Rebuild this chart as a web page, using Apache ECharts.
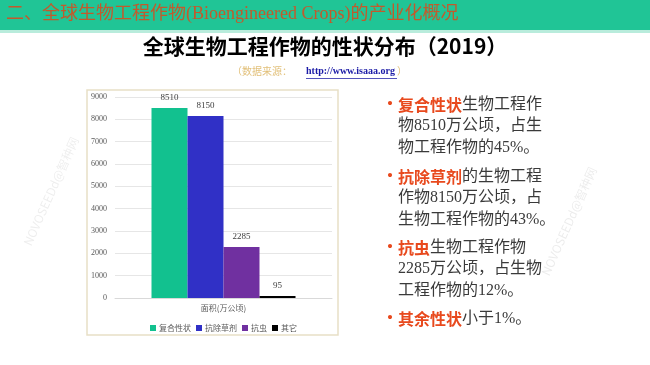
<!DOCTYPE html>
<html><head><meta charset="utf-8">
<script src="https://cdn.jsdelivr.net/npm/echarts@6/dist/echarts.min.js"></script>
<style>html,body{margin:0;padding:0;background:#fff}#c{width:650px;height:365px}</style>
</head><body><div id="c"></div>
<script>
const categories = ['面积(万公顷)'];
const seriesNames = ['复合性状', '抗除草剂', '抗虫', '其它'];
const seriesValues = [[8510], [8150], [2285], [95]];
const seriesColors = ['#12c18f', '#3030c6', '#7030a0', '#000000'];
const yTicks = { min: 0, max: 9000, interval: 1000 };

const hl = '#e8491d', tc = '#3a3a3a';
const bullets = [
  ['{h|复合性状}{t|生物工程作}', '{t|物8510万公顷，占生}', '{t|物工程作物的45%。}'],
  ['{h|抗除草剂}{t|的生物工程}', '{t|作物8150万公顷，占}', '{t|生物工程作物的43%。}'],
  ['{h|抗虫}{t|生物工程作物}', '{t|2285万公顷，占生物}', '{t|工程作物的12%。}'],
  ['{h|其余性状}{t|小于1%。}']
];
const bulletTops = [94, 166, 237, 308];

const chart = echarts.init(document.getElementById('c'));
const wmFont = '12px "Noto Sans CJK SC", sans-serif';
const graphics = [
  { type: 'rect', shape: { x: 0, y: 0, width: 650, height: 30 }, style: { fill: '#20c596' } },
  { type: 'rect', shape: { x: 0, y: 30, width: 650, height: 3 }, style: { fill: '#b9ecdc' } },
  { type: 'text', left: 6, top: 5, style: { text: '二、全球生物工程作物(Bioengineered Crops)的产业化概况', fill: '#c25a2c', font: '18px "Liberation Serif", "Noto Sans CJK SC", serif' } },
  { type: 'text', left: 'center', top: 36, style: { text: '全球生物工程作物的性状分布（2019）', fill: '#000', font: 'bold 21px "Noto Sans CJK SC", sans-serif' } },
  { type: 'text', left: 232, top: 66, style: { text: '（数据来源：', fill: '#e2c07a', font: '10px "Noto Sans CJK SC", sans-serif' } },
  { type: 'text', left: 306, top: 66, style: { text: 'http://www.isaaa.org', fill: '#1a1aa6', font: 'bold 10px "Liberation Serif", serif' } },
  { type: 'rect', shape: { x: 306, y: 78, width: 91, height: 0.8 }, style: { fill: '#1a1aa6' } },
  { type: 'text', left: 397, top: 66, style: { text: '）', fill: '#e2c07a', font: '10px "Noto Sans CJK SC", sans-serif' } },
  { type: 'rect', shape: { x: 87, y: 90, width: 251, height: 245 }, style: { fill: 'none', stroke: '#e8dfc6', lineWidth: 1.5 } },
  { type: 'text', x: 27, y: 245, rotation: 1.15, style: { text: 'NOVOSEEDd@智种网', fill: 'rgba(0,0,0,0.07)', font: wmFont, textVerticalAlign: 'middle' } },
  { type: 'text', x: 545, y: 275, rotation: 1.15, style: { text: 'NOVOSEEDd@智种网', fill: 'rgba(0,0,0,0.08)', font: wmFont, textVerticalAlign: 'middle' } }
];
bullets.forEach((lines, i) => {
  graphics.push({ type: 'text', left: 382, top: bulletTops[i] + 1, style: { text: '•', fill: hl, font: 'bold 16px "Noto Sans CJK SC", sans-serif' } });
  graphics.push({ type: 'text', left: 398, top: bulletTops[i], style: {
    text: lines.join('\n'), lineHeight: 21.5,
    rich: {
      h: { fill: hl, fontWeight: 'bold', fontSize: 16, fontFamily: '"Noto Sans CJK SC", sans-serif', lineHeight: 21.5 },
      t: { fill: tc, fontSize: 16, fontFamily: '"Liberation Serif", "Noto Sans CJK SC", serif', lineHeight: 21.5 }
    }
  } });
});

chart.setOption({
  animation: false,
  grid: { left: 115, right: 318, top: 97, bottom: 67 },
  legend: { top: 319, left: 145, itemWidth: 6, itemHeight: 6, itemGap: 5, icon: 'rect',
    textStyle: { fontSize: 8, color: '#595959', fontFamily: '"Noto Sans CJK SC", sans-serif', padding: [0, 0, 0, -2] },
    data: seriesNames },
  xAxis: { type: 'category', data: categories, axisTick: { show: false },
    axisLine: { lineStyle: { color: '#d9d9d9' } },
    axisLabel: { fontSize: 8, color: '#595959', margin: 6, fontFamily: '"Noto Sans CJK SC", sans-serif' } },
  yAxis: { type: 'value', min: yTicks.min, max: yTicks.max, interval: yTicks.interval,
    axisLine: { show: false }, axisTick: { show: false },
    splitLine: { lineStyle: { color: '#e6e6e6' } },
    axisLabel: { fontSize: 8, color: '#595959', margin: 8, fontFamily: '"Liberation Serif", serif', formatter: v => String(v) } },
  series: seriesNames.map((n, i) => ({
    name: n, type: 'bar', data: seriesValues[i], barWidth: 36, barGap: '0%',
    itemStyle: { color: seriesColors[i] },
    label: { show: true, position: 'top', fontSize: 9, color: '#404040', distance: 6, fontFamily: '"Liberation Serif", serif' }
  })),
  graphic: graphics
});
</script></body></html>
